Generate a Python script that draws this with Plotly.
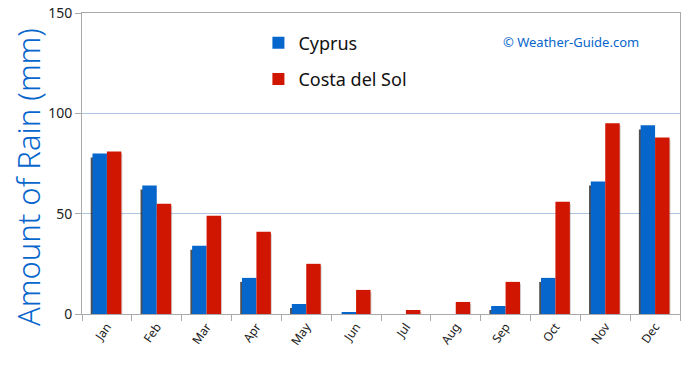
import plotly.graph_objects as go

months = ["Jan", "Feb", "Mar", "Apr", "May", "Jun", "Jul", "Aug", "Sep", "Oct", "Nov", "Dec"]
cyprus = [80, 64, 34, 18, 5, 1, 0, 0, 4, 18, 66, 94]
costa_del_sol = [81, 55, 49, 41, 25, 12, 2, 6, 16, 56, 95, 88]
y_ticks = [0, 50, 100, 150]

BLUE = "#0766cc"
RED = "#d01600"
FONT = "Noto Sans, Lato, sans-serif"

fig = go.Figure()

# soft shadow behind the blue bars
fig.add_trace(go.Bar(
    x=months, y=[max(v - 2, 0) for v in cyprus],
    offset=-0.325, width=0.29,
    marker=dict(color="rgba(20,20,20,0.75)", line=dict(width=0)),
    showlegend=False, hoverinfo="skip",
))
# light shadow to the right of red bars
fig.add_trace(go.Bar(
    x=months, y=[max(v - 1, 0) for v in costa_del_sol],
    offset=0.02, width=0.29,
    marker=dict(color="rgba(0,0,0,0.18)", line=dict(width=0)),
    showlegend=False, hoverinfo="skip",
))
fig.add_trace(go.Bar(
    x=months, y=cyprus, name="Cyprus",
    offset=-0.29, width=0.29,
    marker=dict(color=BLUE, line=dict(width=0)),
    legend="legend",
))
fig.add_trace(go.Bar(
    x=months, y=costa_del_sol, name="Costa del Sol",
    offset=0.0, width=0.29,
    marker=dict(color=RED, line=dict(width=0)),
    legend="legend2",
))

fig.update_layout(
    width=690, height=365,
    margin=dict(l=82, r=10, t=13, b=51),
    barmode="overlay",
    paper_bgcolor="white", plot_bgcolor="white",
    font=dict(family=FONT, color="#222"),
    legend=dict(x=0.295, y=0.9, xanchor="left", yanchor="middle",
                font=dict(size=18, color="#111"), bgcolor="rgba(0,0,0,0)"),
    legend2=dict(x=0.295, y=0.78, xanchor="left", yanchor="middle",
                 font=dict(size=18, color="#111"), bgcolor="rgba(0,0,0,0)"),
    xaxis=dict(
        type="category", tickson="boundaries", automargin=False,
        ticks="outside", ticklen=6, tickcolor="#aaaaaa",
        tickangle=-55, tickfont=dict(size=12, color="#222"),
        showline=True, linecolor="#aaaaaa", mirror=True,
        showgrid=False, range=[-0.5, 11.5],
    ),
    yaxis=dict(
        range=[0, 150], tickvals=y_ticks, automargin=False,
        ticks="outside", ticklen=6, tickcolor="#aaaaaa",
        tickfont=dict(size=14, color="#222"), ticklabeloverflow="allow",
        showline=True, linecolor="#aaaaaa", mirror=True,
        showgrid=True, gridcolor="#aec6e6", zeroline=False,
    ),
    annotations=[
        dict(
            text="Amount of Rain (mm)", xref="paper", yref="paper",
            x=-0.0903, y=0.455, xanchor="center", yanchor="middle",
            textangle=-90, showarrow=False,
            font=dict(size=31, color=BLUE, family=FONT, weight=300),
        ),
        dict(
            text="© Weather-Guide.com", xref="paper", yref="paper",
            x=0.935, y=0.905, xanchor="right", yanchor="middle", showarrow=False,
            font=dict(size=13, color=BLUE, family=FONT),
        ),
    ],
)

fig.write_html(
    "out.html",
    config={"displayModeBar": False},
    post_script="document.body.style.margin='0';document.body.style.overflow='hidden';",
)
